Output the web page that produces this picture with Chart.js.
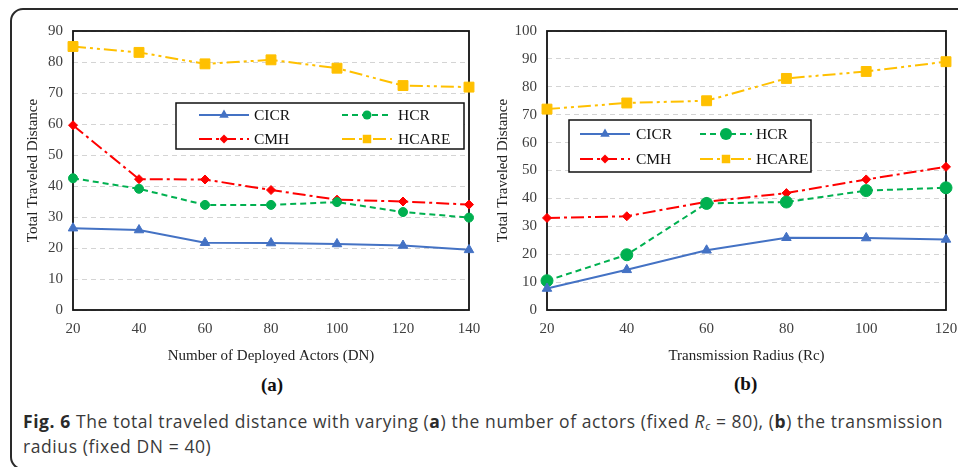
<!DOCTYPE html>
<html>
<head>
<meta charset="utf-8">
<script src="https://cdn.jsdelivr.net/npm/chart.js@4"></script>
<style>
  html, body { margin: 0; padding: 0; background: #fff; width: 958px; height: 467px; overflow: hidden; }
  .frame { position: absolute; left: 10px; top: 8px; width: 980px; height: 458px; border: 2px solid #2a2a2a; border-radius: 13px; }
  canvas { position: absolute; }
  #chartA { left: 12px; top: 12px; }
  #chartB { left: 484px; top: 12px; }
  .sub { position: absolute; font-family: "Liberation Serif", serif; font-weight: bold; font-size: 19px; color: #111; }
  .caption { position: absolute; left: 23px; top: 409px; width: 940px; font-family: "Open Sans", sans-serif; font-size: 17.5px; line-height: 25px; color: #3a3a3a; white-space: nowrap; }
  .caption b { color: #2a2a2a; }
  .caption sub { font-size: 11px; line-height: 0; position: relative; top: 2px; vertical-align: baseline; }
</style>
</head>
<body>
<div class="frame"></div>
<canvas id="chartA" width="472" height="360"></canvas>
<canvas id="chartB" width="474" height="360"></canvas>
<div class="sub" style="left:261px; top:374px;">(a)</div>
<div class="sub" style="left:734px; top:373px;">(b)</div>
<div class="caption"><span id="capLine"><b>Fig. 6</b> The total traveled distance with varying (<b>a</b>) the number of actors (fixed <i>R</i><sub><i>c</i></sub> = 80), (<b>b</b>) the transmission</span><br>radius (fixed DN = 40)</div>
<script>
const seriesNames = ['CICR', 'HCR', 'CMH', 'HCARE'];

// (a) varying number of deployed actors
const dnLabels = ['20', '40', '60', '80', '100', '120', '140'];
const cicrA = [26.4, 25.8, 21.7, 21.6, 21.3, 20.8, 19.4];
const hcrA = [42.5, 39.1, 33.9, 33.9, 34.8, 31.6, 29.8];
const cmhA = [59.6, 42.2, 42.1, 38.7, 35.6, 35.0, 34.0];
const hcareA = [85.0, 83.1, 79.4, 80.7, 78.0, 72.4, 71.9];

// (b) varying transmission radius
const rcLabels = ['20', '40', '60', '80', '100', '120'];
const cicrB = [7.7, 14.4, 21.4, 25.9, 25.8, 25.3];
const hcrB = [10.5, 19.8, 38.2, 38.7, 42.8, 43.8];
const cmhB = [33.0, 33.6, 38.8, 41.9, 46.8, 51.3];
const hcareB = [72.0, 74.2, 75.0, 83.0, 85.5, 89.0];

const styles = [
  { color: '#4472C4', dash: [], point: 'triangle', r: 5.5 },
  { color: '#00B050', dash: [6, 4], point: 'circle', r: 4.5 },
  { color: '#FF0000', dash: [13, 4, 3, 4], point: 'rectRot', r: 4.5 },
  { color: '#FFC000', dash: [13, 4, 3, 4, 3, 4], point: 'rect', r: 7 }
];

const serif = 'Liberation Serif';

// nudge the first caption line to the width it has in the figure
(function fitCaption() {
  const line = document.getElementById('capLine');
  const chars = line.textContent.length;
  const extra = (920 - line.getBoundingClientRect().width) / chars;
  document.querySelector('.caption').style.letterSpacing = extra.toFixed(3) + 'px';
})();

// plot frame + boxed legend inside the plot area
const boxLegend = {
  id: 'boxLegend',
  beforeDatasetsDraw(chart) {
    const { ctx, chartArea: a } = chart;
    ctx.save();
    ctx.lineWidth = 1.8;
    ctx.strokeStyle = '#111';
    ctx.strokeRect(a.left, a.top, a.right - a.left, a.bottom - a.top);
    ctx.restore();
  },
  afterDatasetsDraw(chart, args, opts) {
    const { ctx, chartArea: a } = chart;
    const bx = a.left + opts.x, by = a.top + opts.y;
    ctx.save();
    ctx.fillStyle = '#fff';
    ctx.fillRect(bx, by, opts.w, opts.h);
    ctx.lineWidth = 1.5;
    ctx.strokeStyle = '#111';
    ctx.strokeRect(bx, by, opts.w, opts.h);
    chart.data.datasets.forEach((ds, i) => {
      const col = opts.cols[i % 2];
      const y = by + opts.rows[Math.floor(i / 2)];
      const x0 = bx + col.line, x1 = x0 + col.len;
      ctx.strokeStyle = ds.borderColor;
      ctx.lineWidth = ds.borderWidth;
      ctx.setLineDash(ds.borderDash);
      ctx.beginPath();
      ctx.moveTo(x0, y);
      ctx.lineTo(x1, y);
      ctx.stroke();
      ctx.setLineDash([]);
      ctx.fillStyle = ds.pointBackgroundColor;
      Chart.helpers.drawPoint(ctx, { pointStyle: ds.pointStyle, radius: Math.min(ds.pointRadius, 6), rotation: 0, borderWidth: 0 }, (x0 + x1) / 2, y);
      ctx.fillStyle = '#111';
      ctx.font = '15.5px "' + serif + '"';
      ctx.textBaseline = 'middle';
      ctx.fillText(ds.label, bx + col.text, y + 1);
    });
    ctx.restore();
  }
};

function makeDatasets(values, circleR) {
  return values.map((data, i) => {
    const s = styles[i];
    return {
      label: seriesNames[i],
      data: data,
      borderColor: s.color,
      backgroundColor: s.color,
      borderWidth: 2,
      borderDash: s.dash,
      pointStyle: s.point,
      pointRadius: s.point === 'circle' ? circleR : s.r,
      pointBackgroundColor: s.color,
      pointBorderColor: s.color,
      pointBorderWidth: 1,
      tension: 0
    };
  });
}

function makeChart(id, labels, values, cfg) {
  return new Chart(document.getElementById(id), {
    type: 'line',
    data: { labels: labels, datasets: makeDatasets(values, cfg.circleR) },
    options: {
      responsive: false,
      animation: false,
      layout: { padding: { top: 17, right: cfg.padRight, bottom: 7, left: 0 } },
      plugins: {
        legend: { display: false },
        tooltip: { enabled: false },
        boxLegend: cfg.legend
      },
      scales: {
        x: {
          offset: false,
          grid: { display: false, drawTicks: false },
          border: { display: false },
          ticks: { padding: 10, color: '#404040', font: { family: serif, size: 15 }, maxRotation: 0 },
          title: { display: true, text: cfg.xTitle, color: '#222', font: { family: serif, size: 15 }, padding: 0 },
          afterFit(scale) {
            scale.height = 55;
            scale.paddingLeft = 0;
            scale.paddingRight = 0;
          }
        },
        y: {
          min: 0,
          max: cfg.yMax,
          grid: { color: '#d4d4d4', lineWidth: 1, drawTicks: false },
          border: { display: false, dash: [5, 4] },
          ticks: { stepSize: 10, padding: 10, color: '#404040', font: { family: serif, size: 15 } },
          title: { display: true, text: 'Total Traveled Distance', color: '#222', font: { family: serif, size: 15 }, padding: { top: cfg.yTitlePad, bottom: 0 } },
          afterFit(scale) { scale.width = cfg.yWidth; }
        }
      }
    },
    plugins: [boxLegend]
  });
}

makeChart('chartA', dnLabels, [cicrA, hcrA, cmhA, hcareA], {
  xTitle: 'Number of Deployed Actors (DN)',
  yMax: 90,
  yWidth: 61,
  yTitlePad: 12,
  padRight: 15,
  circleR: 4.5,
  legend: { x: 103, y: 72, w: 288, h: 46, rows: [12, 36], cols: [{ line: 23, len: 50, text: 78 }, { line: 166, len: 50, text: 222 }] }
});

makeChart('chartB', rcLabels, [cicrB, hcrB, cmhB, hcareB], {
  xTitle: 'Transmission Radius (Rc)',
  yMax: 100,
  yWidth: 63,
  yTitlePad: 10,
  padRight: 12,
  circleR: 6,
  legend: { x: 22, y: 89, w: 242, h: 52, rows: [14, 39], cols: [{ line: 11, len: 50, text: 67 }, { line: 131, len: 52, text: 187 }] }
});
</script>
</body>
</html>
